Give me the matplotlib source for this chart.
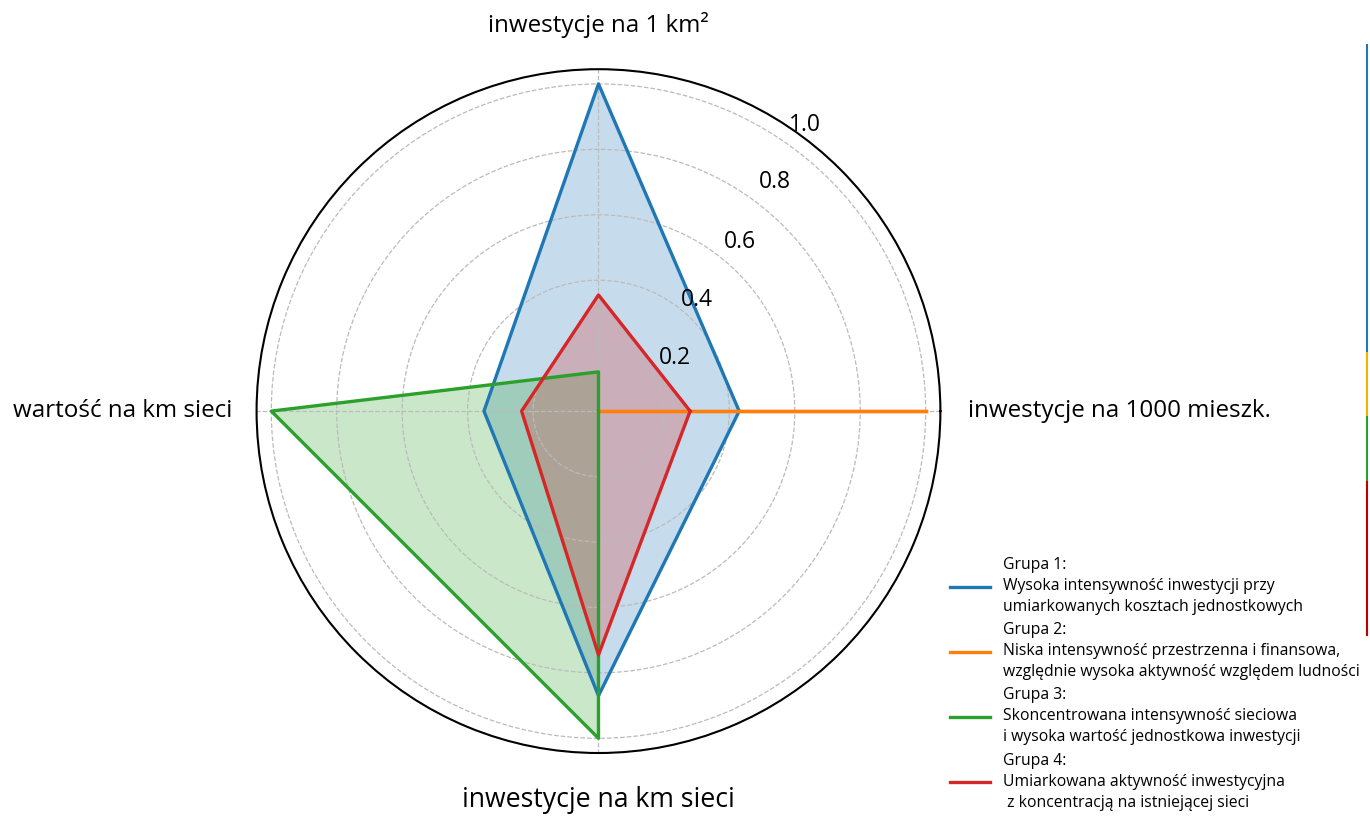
import numpy as np
import matplotlib.pyplot as plt
from matplotlib.lines import Line2D

plt.rcParams['font.family'] = ['Open Sans', 'DejaVu Sans']

axis_names = ['inwestycje na 1000 mieszk.', 'inwestycje na 1 km²',
              'wartość na km sieci', 'inwestycje na km sieci']
group_labels = [
    'Grupa 1:\nWysoka intensywność inwestycji przy\numiarkowanych kosztach jednostkowych',
    'Grupa 2:\nNiska intensywność przestrzenna i finansowa,\nwzględnie wysoka aktywność względem ludności',
    'Grupa 3:\nSkoncentrowana intensywność sieciowa\ni wysoka wartość jednostkowa inwestycji',
    'Grupa 4:\nUmiarkowana aktywność inwestycyjna\n z koncentracją na istniejącej sieci',
]
group1 = [0.43, 1.00, 0.35, 0.87]
group2 = [1.00, 0.00, 0.00, 0.00]
group3 = [0.00, 0.12, 1.00, 1.00]
group4 = [0.28, 0.355, 0.235, 0.745]
colors = ['#1f77b4', '#ff7f0e', '#2ca02c', '#d62728']
r_ticks = [0.2, 0.4, 0.6, 0.8, 1.0]

angles = np.linspace(0, 2 * np.pi, len(axis_names), endpoint=False)
closed = np.concatenate([angles, angles[:1]])

fig = plt.figure(figsize=(13.7, 8.16), dpi=100)
ax = fig.add_axes([0.1872, 0.0772, 0.4993, 0.838], projection='polar')

for vals, c, lab in zip([group1, group2, group3, group4], colors, group_labels):
    v = np.concatenate([vals, vals[:1]])
    ax.plot(closed, v, color=c, lw=2.4, label=lab)
    ax.fill(closed, v, color=c, alpha=0.25)

ax.set_ylim(0, 1.045)
ax.set_xticks(angles)
ax.set_xticklabels([])
ax.set_rgrids(r_ticks, labels=[])
ax.grid(True, color='#bbbbbb', linestyle='--', linewidth=0.9)
ax.spines['polar'].set_color('black')
ax.spines['polar'].set_linewidth(1.5)

# radial tick labels, placed by hand like in the source figure
label_pos = [(34.7, 0.284), (48.4, 0.453), (50.0, 0.673), (52.4, 0.884), (54.2, 1.08)]
for t, (deg, rr) in zip(r_ticks, label_pos):
    ax.text(np.deg2rad(deg), rr, f'{t:.1f}', ha='center', va='center', fontsize=16.5)

# axis titles
ax.text(angles[0], 1.13, axis_names[0], ha='left', va='center', fontsize=17.4)
ax.text(angles[1], 1.18, axis_names[1], ha='center', va='center', fontsize=17.4)
ax.text(angles[2], 1.12, axis_names[2], ha='right', va='center', fontsize=17.4)
ax.text(angles[3], 1.19, axis_names[3], ha='center', va='center', fontsize=19.2)

leg = fig.legend(loc='upper left', bbox_to_anchor=(0.6885, 0.325), frameon=False,
                 fontsize=11.3, handlelength=2.6, handletextpad=0.8,
                 labelspacing=0.45, borderaxespad=0)
for txt in leg.get_texts():
    txt.set_linespacing(1.42)

# thin coloured strip at the right edge
for y0, y1, c in [(0.945, 0.567, colors[0]), (0.567, 0.489, '#f0b400'),
                  (0.489, 0.409, colors[2]), (0.409, 0.222, '#c00000')]:
    fig.add_artist(Line2D([0.9978, 0.9978], [y0, y1], color=c, lw=1.5))

fig.savefig('out.png', dpi=100)
